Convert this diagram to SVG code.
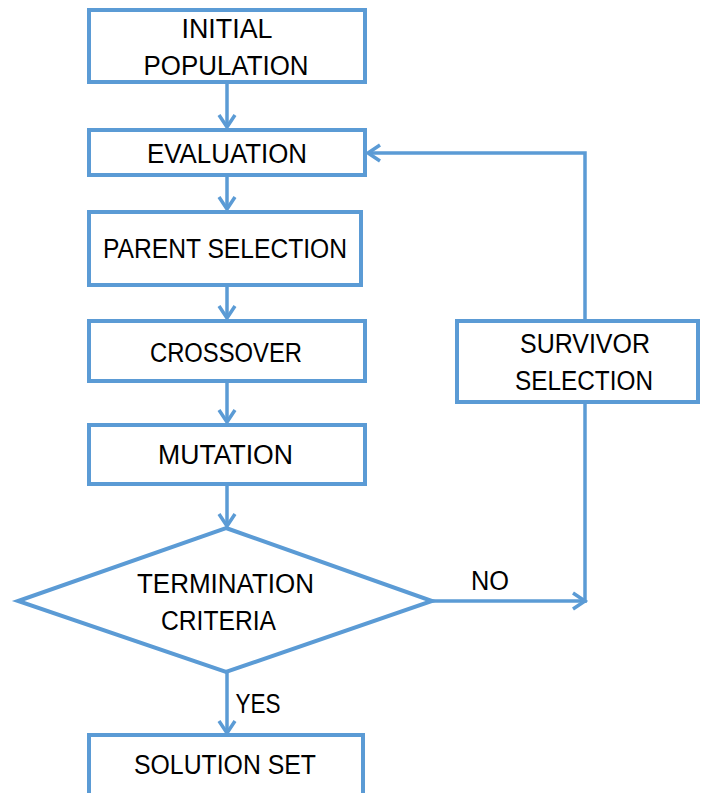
<svg xmlns="http://www.w3.org/2000/svg" width="702" height="793" viewBox="0 0 702 793">
  <defs>
    <style>
      .box { fill: #ffffff; stroke: #5B9BD5; stroke-width: 4; }
      .link { fill: none; stroke: #5B9BD5; stroke-width: 3.5; }
      .lbl { font-family: "Liberation Sans", Arial, sans-serif; font-size: 27px; fill: #000000; text-anchor: middle; }
    </style>
    <marker id="arrow" markerUnits="userSpaceOnUse" markerWidth="30" markerHeight="30" refX="0" refY="0" viewBox="-15 -15 30 30" orient="auto" overflow="visible">
      <path d="M-12,-8 L0,0 L-12,8" fill="none" stroke="#5B9BD5" stroke-width="3.5" stroke-linejoin="miter"/>
    </marker>
  </defs>
  <rect width="702" height="793" fill="#ffffff"/>

  <!-- connectors -->
  <g id="connectors">
    <line class="link" x1="227" y1="83" x2="227" y2="127" marker-end="url(#arrow)"/>
    <line class="link" x1="227" y1="177" x2="227" y2="209" marker-end="url(#arrow)"/>
    <line class="link" x1="227" y1="287" x2="227" y2="318" marker-end="url(#arrow)"/>
    <line class="link" x1="227" y1="383" x2="227" y2="422" marker-end="url(#arrow)"/>
    <line class="link" x1="227" y1="486" x2="227" y2="526" marker-end="url(#arrow)"/>
    <line class="link" x1="227" y1="673" x2="227" y2="733" marker-end="url(#arrow)"/>
    <line class="link" x1="432" y1="601" x2="585" y2="601" marker-end="url(#arrow)"/>
    <line class="link" x1="585" y1="404" x2="585" y2="603"/>
    <polyline class="link" points="585,319 585,153 368,153" marker-end="url(#arrow)"/>
    <text class="lbl" x="490" y="590" textLength="38" lengthAdjust="spacingAndGlyphs">NO</text>
    <text class="lbl" x="258" y="713" textLength="45" lengthAdjust="spacingAndGlyphs">YES</text>
  </g>

  <g id="initial-population">
    <rect class="box" x="89" y="10" width="276" height="72"/>
    <text class="lbl" x="227" y="38" textLength="91" lengthAdjust="spacingAndGlyphs">INITIAL</text>
    <text class="lbl" x="226" y="75" textLength="165" lengthAdjust="spacingAndGlyphs">POPULATION</text>
  </g>

  <g id="evaluation">
    <rect class="box" x="89" y="130" width="276" height="45"/>
    <text class="lbl" x="227" y="163" textLength="160" lengthAdjust="spacingAndGlyphs">EVALUATION</text>
  </g>

  <g id="parent-selection">
    <rect class="box" x="89" y="212" width="272" height="73"/>
    <text class="lbl" x="225" y="258" textLength="244" lengthAdjust="spacingAndGlyphs">PARENT SELECTION</text>
  </g>

  <g id="crossover">
    <rect class="box" x="89" y="321" width="276" height="60"/>
    <text class="lbl" x="226" y="362" textLength="152" lengthAdjust="spacingAndGlyphs">CROSSOVER</text>
  </g>

  <g id="mutation">
    <rect class="box" x="89" y="425" width="276" height="59"/>
    <text class="lbl" x="225.5" y="464" textLength="135" lengthAdjust="spacingAndGlyphs">MUTATION</text>
  </g>

  <g id="termination-criteria">
    <polygon class="box" points="226,528 432,601 226,672 18,601"/>
    <text class="lbl" x="225.5" y="593" textLength="177" lengthAdjust="spacingAndGlyphs">TERMINATION</text>
    <text class="lbl" x="218.5" y="630" textLength="115" lengthAdjust="spacingAndGlyphs">CRITERIA</text>
  </g>

  <g id="survivor-selection">
    <rect class="box" x="457" y="321" width="241" height="81"/>
    <text class="lbl" x="585" y="353" textLength="130" lengthAdjust="spacingAndGlyphs">SURVIVOR</text>
    <text class="lbl" x="584" y="390" textLength="138" lengthAdjust="spacingAndGlyphs">SELECTION</text>
  </g>

  <g id="solution-set">
    <rect class="box" x="89" y="735" width="274" height="60"/>
    <text class="lbl" x="225" y="774" textLength="182" lengthAdjust="spacingAndGlyphs">SOLUTION SET</text>
  </g>
</svg>
